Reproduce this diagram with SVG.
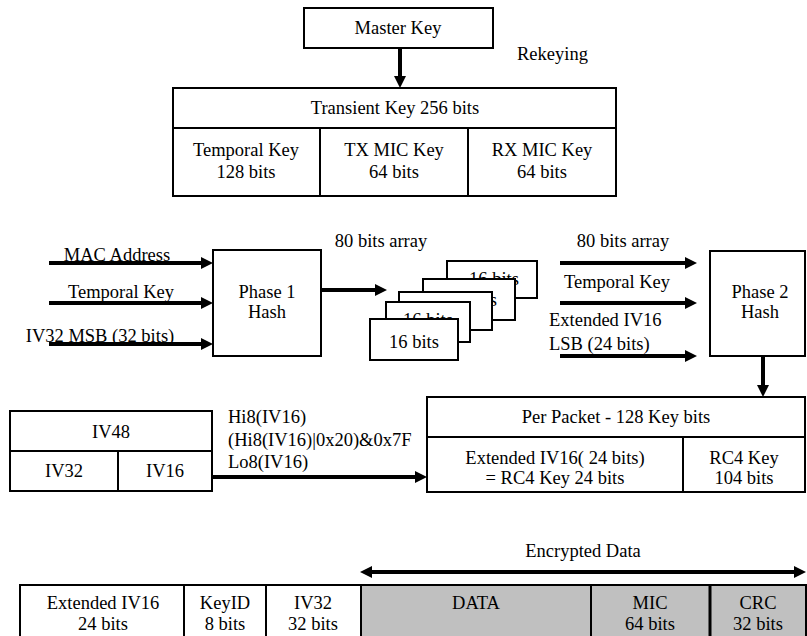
<svg xmlns="http://www.w3.org/2000/svg" width="807" height="636" viewBox="0 0 807 636" font-family="'Liberation Serif', serif">
<style>
text{font-family:"Liberation Serif",serif;font-size:18.5px;fill:#000}
.c{text-anchor:middle}
.b{fill:#fff;stroke:#000;stroke-width:2}
.g{fill:#c0c0c0;stroke:#000;stroke-width:2}
.ln{stroke:#000;stroke-width:2;fill:none}
.ar{stroke:#000;stroke-width:4;fill:none;marker-end:url(#ah)}
</style>
<defs>
<marker id="ah" markerUnits="userSpaceOnUse" markerWidth="14" markerHeight="14" refX="4" refY="6" orient="auto-start-reverse"><path d="M0,0 L12,6 L0,12 z" fill="#000"/></marker>
</defs>
<rect width="807" height="636" fill="#fff"/>

<g id="master-key"><rect class="b" x="304" y="8" width="189" height="40"/><text class="c" x="398" y="34">Master Key</text></g>
<g id="rekeying"><text x="517" y="60">Rekeying</text></g>

<g id="transient-key">
<rect class="b" x="173" y="88" width="443" height="108"/>
<line class="ln" x1="173" y1="128" x2="616" y2="128"/>
<line class="ln" x1="320" y1="128" x2="320" y2="196"/>
<line class="ln" x1="468" y1="128" x2="468" y2="196"/>
<text class="c" x="395" y="114">Transient Key 256 bits</text>
<text class="c" x="246" y="156">Temporal Key</text><text class="c" x="246" y="178">128 bits</text>
<text class="c" x="394" y="156">TX MIC Key</text><text class="c" x="394" y="178">64 bits</text>
<text class="c" x="542" y="156">RX MIC Key</text><text class="c" x="542" y="178">64 bits</text>
</g>

<g id="phase1"><rect class="b" x="213" y="250" width="108" height="106"/><text class="c" x="267" y="298">Phase 1</text><text class="c" x="267" y="318">Hash</text></g>

<g id="array-stack">
<rect class="b" x="447" y="261" width="90" height="37"/><text class="c" x="494" y="285">16 bits</text>
<rect class="b" x="423" y="279" width="92" height="41"/><text class="c" x="472" y="306">16 bits</text>
<rect class="b" x="399" y="292" width="93" height="38"/>
<rect class="b" x="386" y="302" width="84" height="40"/><text class="c" x="428" y="326">16 bits</text>
<rect class="b" x="370" y="319" width="88" height="41"/><text class="c" x="414" y="348">16 bits</text>
</g>

<g id="phase2"><rect class="b" x="710" y="251" width="95" height="105"/><text class="c" x="760" y="298">Phase 2</text><text class="c" x="760" y="318">Hash</text></g>

<g id="iv48">
<rect class="b" x="10" y="411" width="202" height="80"/>
<line class="ln" x1="10" y1="451" x2="212" y2="451"/>
<line class="ln" x1="118" y1="451" x2="118" y2="491"/>
<text class="c" x="111" y="438">IV48</text>
<text class="c" x="64" y="477">IV32</text>
<text class="c" x="165" y="477">IV16</text>
</g>

<g id="per-packet">
<rect class="b" x="427" y="397" width="378" height="95"/>
<line class="ln" x1="427" y1="437" x2="805" y2="437"/>
<line class="ln" x1="683" y1="437" x2="683" y2="492"/>
<text class="c" x="616" y="423">Per Packet - 128 Key bits</text>
<text class="c" x="555" y="464">Extended IV16( 24 bits)</text>
<text class="c" x="555" y="484">= RC4 Key 24 bits</text>
<text class="c" x="744" y="464">RC4 Key</text>
<text class="c" x="744" y="484">104 bits</text>
</g>

<g id="packet-format">
<rect class="b" x="20" y="585" width="341" height="70"/>
<rect class="g" x="361" y="585" width="445" height="70"/>
<line class="ln" x1="184" y1="585" x2="184" y2="636"/>
<line class="ln" x1="266" y1="585" x2="266" y2="636"/>
<line class="ln" x1="591" y1="585" x2="591" y2="636"/>
<line class="ln" x1="710" y1="585" x2="710" y2="636" style="stroke-width:3"/>
<text class="c" x="103" y="609">Extended IV16</text><text class="c" x="103" y="630">24 bits</text>
<text class="c" x="225" y="609">KeyID</text><text class="c" x="225" y="630">8 bits</text>
<text class="c" x="313" y="609">IV32</text><text class="c" x="313" y="630">32  bits</text>
<text class="c" x="476" y="609">DATA</text>
<text class="c" x="650" y="609">MIC</text><text class="c" x="650" y="630">64 bits</text>
<text class="c" x="758" y="609">CRC</text><text class="c" x="758" y="630">32 bits</text>
</g>

<g id="labels">
<text class="c" x="117" y="261">MAC Address</text>
<text class="c" x="121" y="298">Temporal Key</text>
<text class="c" x="100" y="342">IV32 MSB (32 bits)</text>
<text class="c" x="381" y="247">80 bits array</text>
<text class="c" x="623" y="247">80 bits array</text>
<text class="c" x="617" y="288">Temporal Key</text>
<text x="549" y="326">Extended IV16</text>
<text x="549" y="350">LSB (24 bits)</text>
<text x="228" y="423">Hi8(IV16)</text>
<text x="228" y="446">(Hi8(IV16)|0x20)&amp;0x7F</text>
<text x="228" y="468">Lo8(IV16)</text>
<text class="c" x="583" y="557">Encrypted Data</text>
</g>

<g id="connectors">
<line class="ar" x1="400" y1="48" x2="400" y2="80"/>
<line class="ar" x1="49" y1="263" x2="205" y2="263"/>
<line class="ar" x1="49" y1="303" x2="205" y2="303"/>
<line class="ar" x1="49" y1="344" x2="205" y2="344"/>
<line class="ar" x1="321" y1="290" x2="379" y2="290"/>
<line class="ar" x1="560" y1="263" x2="689" y2="263"/>
<line class="ar" x1="560" y1="303" x2="689" y2="303"/>
<line class="ar" x1="560" y1="356" x2="689" y2="356"/>
<line class="ar" x1="763" y1="356" x2="763" y2="389"/>
<line class="ar" x1="212" y1="477" x2="419" y2="477"/>
<line class="ar" x1="368" y1="572" x2="798" y2="572" style="marker-start:url(#ah)"/>
</g>
</svg>
